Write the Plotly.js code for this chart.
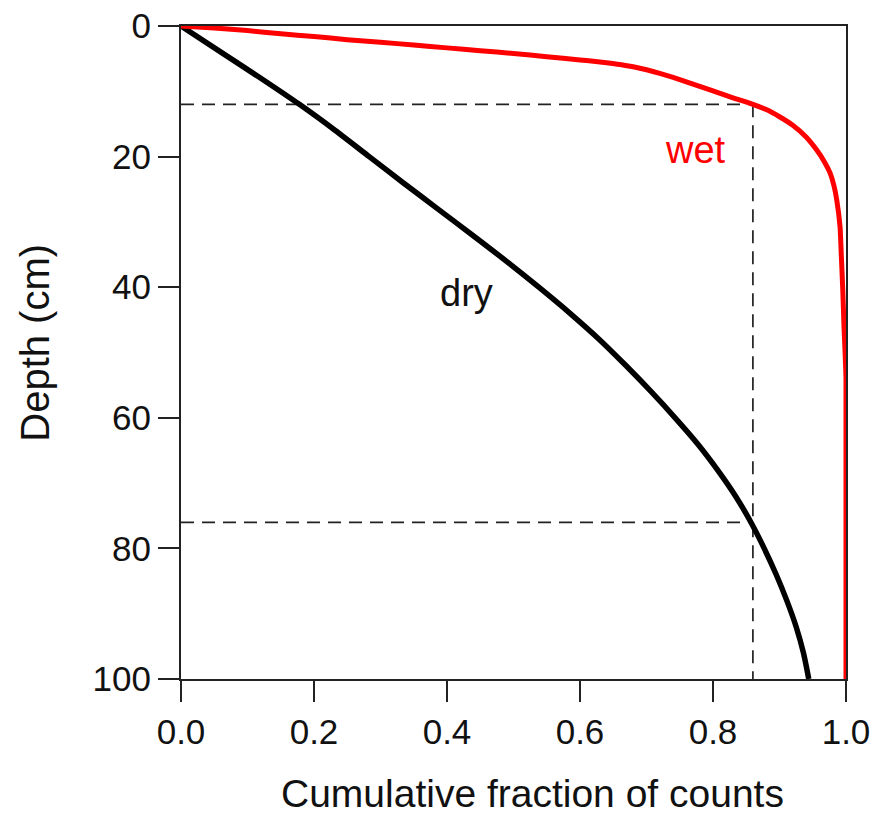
<!DOCTYPE html>
<html>
<head>
<meta charset="utf-8">
<script src="https://cdn.plot.ly/plotly-3.0.1.min.js"></script>
<style>
  html, body { margin: 0; padding: 0; background: #fff; }
  #chart { width: 879px; height: 816px; }
</style>
</head>
<body>
<div id="chart"></div>
<script>
// Cumulative fraction of counts versus depth, wet and dry profiles
const wetDepth = [0, 0.3, 0.7, 1.2, 1.6, 2.1, 2.5, 2.9, 3.35, 3.8, 4.2, 4.7, 5.2, 5.4, 5.63, 5.9, 6.25, 6.7, 7.25, 7.87, 8.55, 9.25, 9.95, 11.0, 11.85, 12.8, 13.9, 15.2, 17.0, 19.0, 20.7, 22.5, 24.5, 26.6, 30.7, 35.3, 40, 46, 54, 100];
const wetFrac  = [0, 0.05, 0.10, 0.15, 0.20, 0.25, 0.30, 0.35, 0.40, 0.45, 0.50, 0.55, 0.60, 0.62, 0.64, 0.66, 0.68, 0.70, 0.72, 0.74, 0.76, 0.78, 0.80, 0.83, 0.856, 0.88, 0.90, 0.92, 0.94, 0.956, 0.967, 0.976, 0.982, 0.986, 0.991, 0.993, 0.995, 0.997, 1.0, 1.0];

const dryDepth = [0, 4, 8, 12, 16, 20, 24, 28, 32, 36, 40, 44, 48, 52, 56, 60, 64, 68, 72, 76, 80, 84, 88, 92, 96, 100];
const dryFrac  = [0, 0.06, 0.12, 0.178, 0.232, 0.283, 0.334, 0.386, 0.438, 0.489, 0.538, 0.585, 0.629, 0.669, 0.707, 0.743, 0.777, 0.807, 0.834, 0.857, 0.877, 0.895, 0.911, 0.925, 0.936, 0.944];

// Guide lines: depths where each profile reaches 86 % of counts
const guideFrac = 0.86;
const guideDepthWet = 12;
const guideDepthDry = 76;

const xTickVals = [0, 0.2, 0.4, 0.6, 0.8, 1.0];
const xTickText = ['0.0', '0.2', '0.4', '0.6', '0.8', '1.0'];
const yTickVals = [0, 20, 40, 60, 80, 100];

const xTitle = 'Cumulative fraction of counts';
const yTitle = 'Depth (cm)';

const guideStyle = { color: '#222', width: 1.7, dash: '13px,8px' };

const traces = [
  { x: [0, guideFrac], y: [guideDepthWet, guideDepthWet], mode: 'lines', line: guideStyle, hoverinfo: 'skip' },
  { x: [0, guideFrac], y: [guideDepthDry, guideDepthDry], mode: 'lines', line: guideStyle, hoverinfo: 'skip' },
  { x: [guideFrac, guideFrac], y: [guideDepthWet, 100], mode: 'lines', line: guideStyle, hoverinfo: 'skip' },
  { x: dryFrac, y: dryDepth, mode: 'lines', name: 'dry',
    line: { color: '#000', width: 5.5, shape: 'spline', smoothing: 0.8 }, cliponaxis: false },
  { x: wetFrac, y: wetDepth, mode: 'lines', name: 'wet',
    line: { color: '#ff0000', width: 5, shape: 'spline', smoothing: 0.5 }, cliponaxis: false }
];

const fontFam = 'Liberation Sans, Arial, Helvetica, sans-serif';

const axisCommon = {
  ticks: 'outside',
  ticklen: 21,
  tickwidth: 2,
  tickcolor: '#222',
  showline: true,
  linecolor: '#222',
  linewidth: 2,
  mirror: true,
  showgrid: false,
  zeroline: false,
  layer: 'below traces',
  tickfont: { size: 35 }
};

const layout = {
  width: 879,
  height: 816,
  margin: { l: 181, r: 33, t: 26, b: 137 },
  paper_bgcolor: '#fff',
  plot_bgcolor: '#fff',
  showlegend: false,
  font: { family: fontFam, color: '#111', size: 35 },
  xaxis: Object.assign({ range: [0, 1], tickvals: xTickVals, ticktext: xTickText }, axisCommon),
  yaxis: Object.assign({ range: [100, 0], tickvals: yTickVals }, axisCommon),
  annotations: [
    { x: 0.773, y: 19, xref: 'x', yref: 'y', text: 'wet', showarrow: false,
      font: { size: 38, color: '#ff0000', family: fontFam } },
    { x: 0.43, y: 40.9, xref: 'x', yref: 'y', text: 'dry', showarrow: false,
      font: { size: 38, color: '#111', family: fontFam } },
    // axis titles, set slightly off-centre
    { x: 0.528, y: -0.1746, xref: 'paper', yref: 'paper', xanchor: 'center', yanchor: 'middle',
      text: xTitle, showarrow: false, font: { size: 39, color: '#111', family: fontFam } },
    { x: -0.22, y: 0.5145, xref: 'paper', yref: 'paper', xanchor: 'center', yanchor: 'middle',
      text: yTitle, textangle: -90, showarrow: false, font: { size: 40, color: '#111', family: fontFam } }
  ]
};

Plotly.newPlot('chart', traces, layout, { displayModeBar: false, staticPlot: true });
</script>
</body>
</html>
